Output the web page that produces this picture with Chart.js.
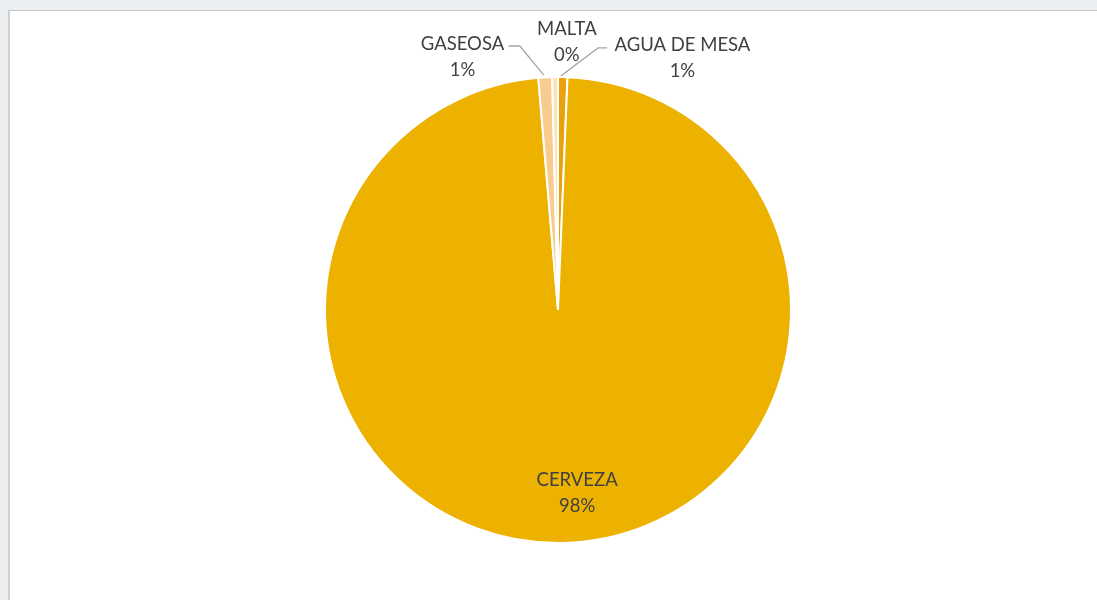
<!DOCTYPE html>
<html>
<head>
<meta charset="utf-8">
<script src="https://cdn.jsdelivr.net/npm/chart.js@4.4.1/dist/chart.umd.min.js"></script>
<style>
  html, body { margin: 0; padding: 0; width: 1097px; height: 600px; overflow: hidden; background: #eceff1; }
  #frame { position: absolute; left: 8px; top: 10px; width: 1100px; height: 600px; background: #ffffff; border-top: 1px solid #c4c4c4; border-left: 2px solid #cfcfcf; }
  #wrap { position: absolute; left: 0; top: 0; width: 1097px; height: 600px; }
</style>
</head>
<body>
<div id="frame"></div>
<div id="wrap"><canvas id="chart" width="1097" height="600"></canvas></div>
<script>
// Sales mix by product (share of total, %)
const categories = ['AGUA DE MESA', 'CERVEZA', 'GASEOSA', 'MALTA'];
const shares = [0.65, 98.0, 0.95, 0.4];
const sliceColors = ['#E9A20C', '#EDB100', '#F9CB8F', '#FCE2B6'];

// Label placement relative to pie centre, in units of the radius
// [dx, dy of first line, leader points or null]
const labelSpots = [
  { dx: 0.534, dy: -1.138, leader: [[0.211, -1.125], [0.172, -1.125], [0.012, -1.004]] },
  { dx: 0.082, dy: 0.728, leader: null },
  { dx: -0.410, dy: -1.142, leader: [[-0.212, -1.133], [-0.164, -1.133], [-0.061, -1.008]] },
  { dx: 0.038, dy: -1.207, leader: null }
];

const pieLabels = {
  id: 'pieLabels',
  afterDatasetsDraw(chart) {
    const ctx = chart.ctx;
    const meta = chart.getDatasetMeta(0);
    const data = chart.data.datasets[0].data;
    const total = data.reduce((a, b) => a + b, 0);
    meta.data.forEach((arc, i) => {
      const r = arc.outerRadius;
      const cx = arc.x, cy = arc.y;
      const spot = labelSpots[i];
      if (spot.leader) {
        ctx.save();
        ctx.strokeStyle = '#a5a5a5';
        ctx.lineWidth = 1.3;
        ctx.beginPath();
        spot.leader.forEach((p, k) => {
          const px = cx + p[0] * r, py = cy + p[1] * r;
          if (k === 0) ctx.moveTo(px, py); else ctx.lineTo(px, py);
        });
        ctx.stroke();
        ctx.restore();
      }
      const pct = Math.round(data[i] / total * 100) + '%';
      const x = cx + spot.dx * r;
      const y = cy + spot.dy * r;
      ctx.save();
      ctx.fillStyle = '#404040';
      ctx.font = '18.5px Lato, "Open Sans", sans-serif';
      ctx.textAlign = 'center';
      ctx.textBaseline = 'middle';
      ctx.fillText(categories[i], x, y);
      ctx.fillText(pct, x, y + 26);
      ctx.restore();
    });
  }
};

new Chart(document.getElementById('chart'), {
  type: 'pie',
  data: {
    labels: categories,
    datasets: [{
      data: shares,
      backgroundColor: sliceColors,
      borderColor: '#ffffff',
      borderWidth: 2
    }]
  },
  options: {
    responsive: false,
    animation: false,
    layout: { padding: { top: 76, bottom: 56, left: 100, right: 81 } },
    plugins: {
      legend: { display: false },
      tooltip: { enabled: false }
    }
  },
  plugins: [pieLabels]
});
</script>
</body>
</html>
